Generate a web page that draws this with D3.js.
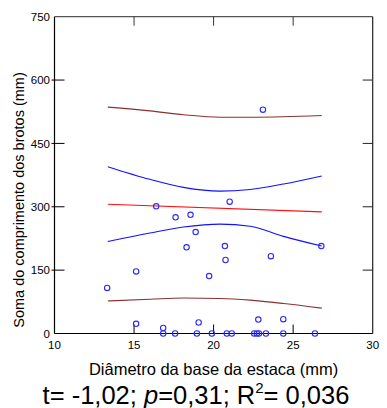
<!DOCTYPE html>
<html>
<head>
<meta charset="utf-8">
<script src="https://cdn.jsdelivr.net/npm/d3@7"></script>
<style>
  body { margin: 0; background: #fff; }
  svg { display: block; font-family: "Liberation Sans", Arial, sans-serif; }
</style>
</head>
<body>
<div id="chart"></div>
<script>
// observed points (diameter mm, shoot length mm)
const diam = [13.31, 15.13, 16.39, 17.61, 18.55, 18.87, 18.30, 19.72, 20.71, 20.75, 21.01, 23.60, 26.77,
  15.13, 16.83, 19.06, 22.81, 24.38, 23.10,
  16.83, 17.58, 18.95, 19.89, 20.83, 21.14, 22.55, 22.72, 22.85, 23.29, 24.38, 26.37];
const brotos = [108, 147, 301, 275, 281, 240, 204, 136, 207, 174, 312, 183, 207,
  23, 13, 26, 33, 34, 530,
  0, 0, 0, 0, 0, 0, 0, 0, 0, 0, 0, 0];

// fitted line and bands
const fitX = [13.35, 26.8];
const fitY = [306, 288];
const bandX = [13.35, 16.0, 18.1, 20.4, 22.3, 24.4, 26.8];
const ciUpper = [395, 365, 346, 337, 341, 354, 373];
const ciLower = [218, 238, 252, 259, 254, 230, 207];
const piUpper = [536, 527, 518, 512, 512, 513, 516];
const piLower = [77, 81, 84, 83, 79, 71, 60];

const xTicks = [10, 15, 20, 25, 30];
const yTicks = [0, 150, 300, 450, 600, 750];

const W = 387, H = 408;
const margin = { left: 54.5, right: 14.3, top: 16.7, bottom: 74.5 };
const w = W - margin.left - margin.right;
const h = H - margin.top - margin.bottom;

const svg = d3.select('#chart').append('svg')
  .attr('width', W)
  .attr('height', H);

const g = svg.append('g')
  .attr('transform', `translate(${margin.left}, ${margin.top})`);

const x = d3.scaleLinear().domain([10, 30]).range([0, w]);
const y = d3.scaleLinear().domain([0, 750]).range([h, 0]);

// frame: top and right lighter, left and bottom black
g.append('line').attr('x1', 0).attr('x2', w).attr('y1', 0).attr('y2', 0)
  .attr('stroke', '#555').attr('stroke-width', 1.2);
g.append('line').attr('x1', w).attr('x2', w).attr('y1', 0).attr('y2', h)
  .attr('stroke', '#222').attr('stroke-width', 1.2);
g.append('line').attr('x1', 0).attr('x2', 0).attr('y1', 0).attr('y2', h)
  .attr('stroke', '#000').attr('stroke-width', 1.2);
g.append('line').attr('x1', 0).attr('x2', w).attr('y1', h).attr('y2', h)
  .attr('stroke', '#000').attr('stroke-width', 1.2);

// ticks
const inner = xTicks.slice(1, -1);
inner.forEach(t => {
  g.append('line').attr('x1', x(t)).attr('x2', x(t)).attr('y1', h).attr('y2', h - 9)
    .attr('stroke', '#000');
  g.append('line').attr('x1', x(t)).attr('x2', x(t)).attr('y1', 0).attr('y2', 9)
    .attr('stroke', '#333');
});
yTicks.slice(1, -1).forEach(t => {
  g.append('line').attr('x1', -3).attr('x2', 10).attr('y1', y(t)).attr('y2', y(t))
    .attr('stroke', '#000');
  g.append('line').attr('x1', w - 10).attr('x2', w).attr('y1', y(t)).attr('y2', y(t))
    .attr('stroke', '#222');
});

// tick labels
g.selectAll('.xlab').data(xTicks).join('text')
  .attr('class', 'xlab')
  .attr('x', d => x(d))
  .attr('y', h + 16)
  .attr('text-anchor', 'middle')
  .attr('font-size', 11.5)
  .text(d => d);

g.selectAll('.ylab').data(yTicks).join('text')
  .attr('class', 'ylab')
  .attr('x', -4.5)
  .attr('y', d => y(d))
  .attr('dy', '0.36em')
  .attr('text-anchor', 'end')
  .attr('font-size', 11.5)
  .text(d => d);

// bands and fitted line
const line = d3.line()
  .x(d => x(d[0]))
  .y(d => y(d[1]))
  .curve(d3.curveMonotoneX);

const series = [
  { ys: piUpper, color: '#8b3030' },
  { ys: piLower, color: '#8b3030' },
  { ys: ciUpper, color: '#1010ff' },
  { ys: ciLower, color: '#1010ff' }
];
series.forEach(s => {
  g.append('path')
    .datum(bandX.map((v, i) => [v, s.ys[i]]))
    .attr('fill', 'none')
    .attr('stroke', s.color)
    .attr('stroke-width', 1.1)
    .attr('d', line);
});
g.append('path')
  .datum(fitX.map((v, i) => [v, fitY[i]]))
  .attr('fill', 'none')
  .attr('stroke', '#ff1010')
  .attr('stroke-width', 1.1)
  .attr('d', line);

// points
g.selectAll('circle').data(diam).join('circle')
  .attr('cx', d => x(d))
  .attr('cy', (d, i) => y(brotos[i]))
  .attr('r', 2.7)
  .attr('fill', 'none')
  .attr('stroke', '#2a2aff')
  .attr('stroke-width', 1.1);

// axis titles
svg.append('text')
  .attr('x', margin.left + w / 2)
  .attr('y', 375)
  .attr('text-anchor', 'middle')
  .attr('font-size', 16.5)
  .text('Diâmetro da base da estaca (mm)');

svg.append('text')
  .attr('transform', 'translate(24, 200) rotate(-90)')
  .attr('text-anchor', 'middle')
  .attr('font-size', 14.5)
  .text('Soma do comprimento dos brotos (mm)');

// statistics line
const stat = svg.append('text')
  .attr('x', 196)
  .attr('y', 404)
  .attr('text-anchor', 'middle')
  .attr('font-size', 25.5);
stat.append('tspan').text('t= -1,02; ');
stat.append('tspan').attr('font-style', 'italic').text('p');
stat.append('tspan').text('=0,31; R');
stat.append('tspan').attr('font-size', 15).attr('dy', -11).text('2');
stat.append('tspan').attr('dy', 11).text('= 0,036');
</script>
</body>
</html>
